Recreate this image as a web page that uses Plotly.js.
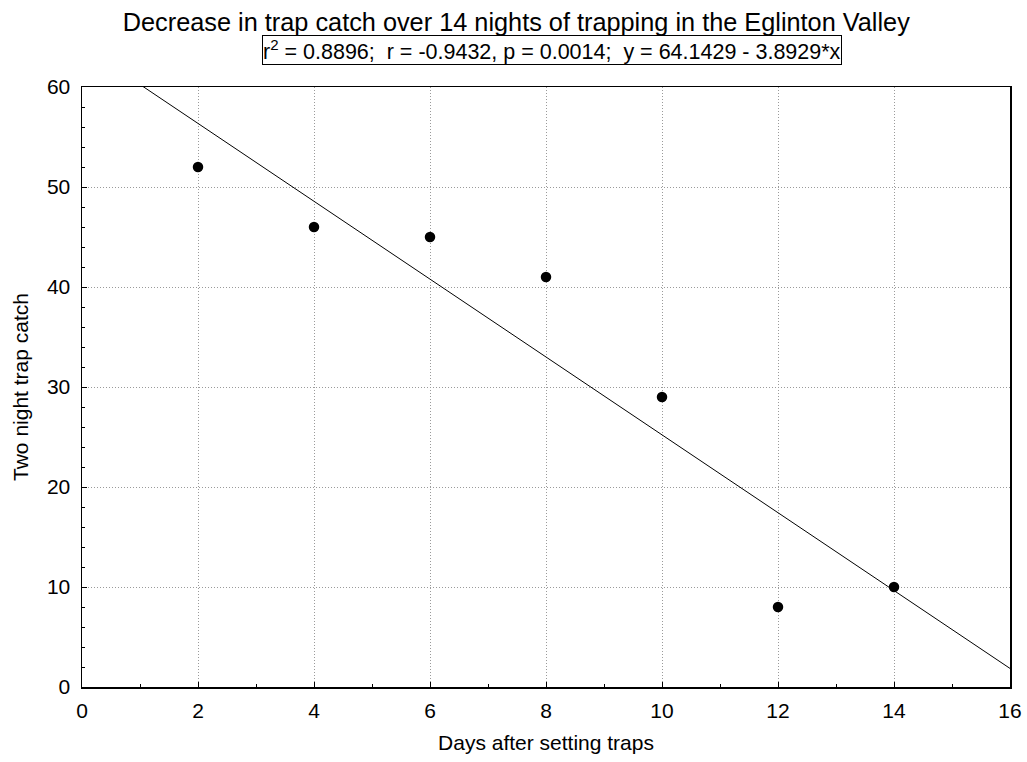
<!DOCTYPE html>
<html>
<head>
<meta charset="utf-8">
<script src="https://cdn.plot.ly/plotly-3.0.1.min.js"></script>
<style>html,body{margin:0;padding:0;background:#fff;}#chart{width:1027px;height:762px;}</style>
</head>
<body>
<div id="chart"></div>
<script>
const days = [2, 4, 6, 8, 10, 12, 14];
const catchCounts = [52, 46, 45, 41, 29, 8, 10];
const fitRangeX = [1, 16];
const titleText = "Decrease in trap catch over 14 nights of trapping in the Eglinton Valley";
const statsText = "r<sup>2</sup> = 0.8896;  r = -0.9432, p = 0.0014;  y = 64.1429 - 3.8929*x";
const xTitleText = "Days after setting traps";
const yTitleText = "Two night trap catch";
const xTickVals = [0, 2, 4, 6, 8, 10, 12, 14, 16];
const yTickVals = [0, 10, 20, 30, 40, 50, 60];

// least-squares fit from the data
const n = days.length;
const mx = days.reduce((a, b) => a + b, 0) / n;
const my = catchCounts.reduce((a, b) => a + b, 0) / n;
let sxy = 0, sxx = 0;
for (let i = 0; i < n; i++) { sxy += (days[i] - mx) * (catchCounts[i] - my); sxx += (days[i] - mx) ** 2; }
const slope = sxy / sxx;
const intercept = my - slope * mx;
const fitY = fitRangeX.map(x => intercept + slope * x);

const font = {family: "Liberation Sans, Arial, sans-serif", color: "#000"};
const f = s => Object.assign({size: s}, font);

const traces = [
  {x: fitRangeX, y: fitY, mode: "lines", line: {color: "#000", width: 1}, hoverinfo: "skip"},
  {x: days, y: catchCounts, mode: "markers", marker: {color: "#000", size: 10.5}, cliponaxis: false}
];

const axisCommon = {
  showline: true, linecolor: "#000", linewidth: 1.5, mirror: true,
  ticks: "inside", ticklen: 5, tickcolor: "#000", tickwidth: 1,
  showgrid: true, gridcolor: "#9a9a9a", griddash: "1px,2px", gridwidth: 1,
  zeroline: false, tickfont: f(21)
};

const layout = {
  width: 1027, height: 762,
  paper_bgcolor: "#fff", plot_bgcolor: "#fff",
  showlegend: false,
  margin: {l: 82, r: 17, t: 87, b: 75},
  font: font,
  title: {text: titleText, font: f(25.3), xref: "paper", x: 0.468, xanchor: "center", y: 0.9715, yanchor: "middle"},
  xaxis: Object.assign({}, axisCommon, {
    range: [0, 16], tickvals: xTickVals, ticklabelstandoff: 4,
    minor: {dtick: 1, ticks: "inside", ticklen: 3, tickcolor: "#000", showgrid: false},
    title: {text: xTitleText, font: f(21), standoff: 14}
  }),
  yaxis: Object.assign({}, axisCommon, {
    range: [0, 60], tickvals: yTickVals, ticklabelstandoff: 6,
    minor: {dtick: 2, ticks: "inside", ticklen: 3, tickcolor: "#000", showgrid: false},
    title: {text: yTitleText, font: f(21), standoff: 12}
  }),
  annotations: [{
    text: statsText, xref: "paper", yref: "paper", x: 0.5065, y: 1.0, yshift: 37,
    xanchor: "center", yanchor: "middle", showarrow: false,
    font: f(21.5),
    bordercolor: "#000", borderwidth: 1, borderpad: 0, bgcolor: "#fff"
  }]
};

Plotly.newPlot("chart", traces, layout, {displayModeBar: false, staticPlot: true});
</script>
</body>
</html>
